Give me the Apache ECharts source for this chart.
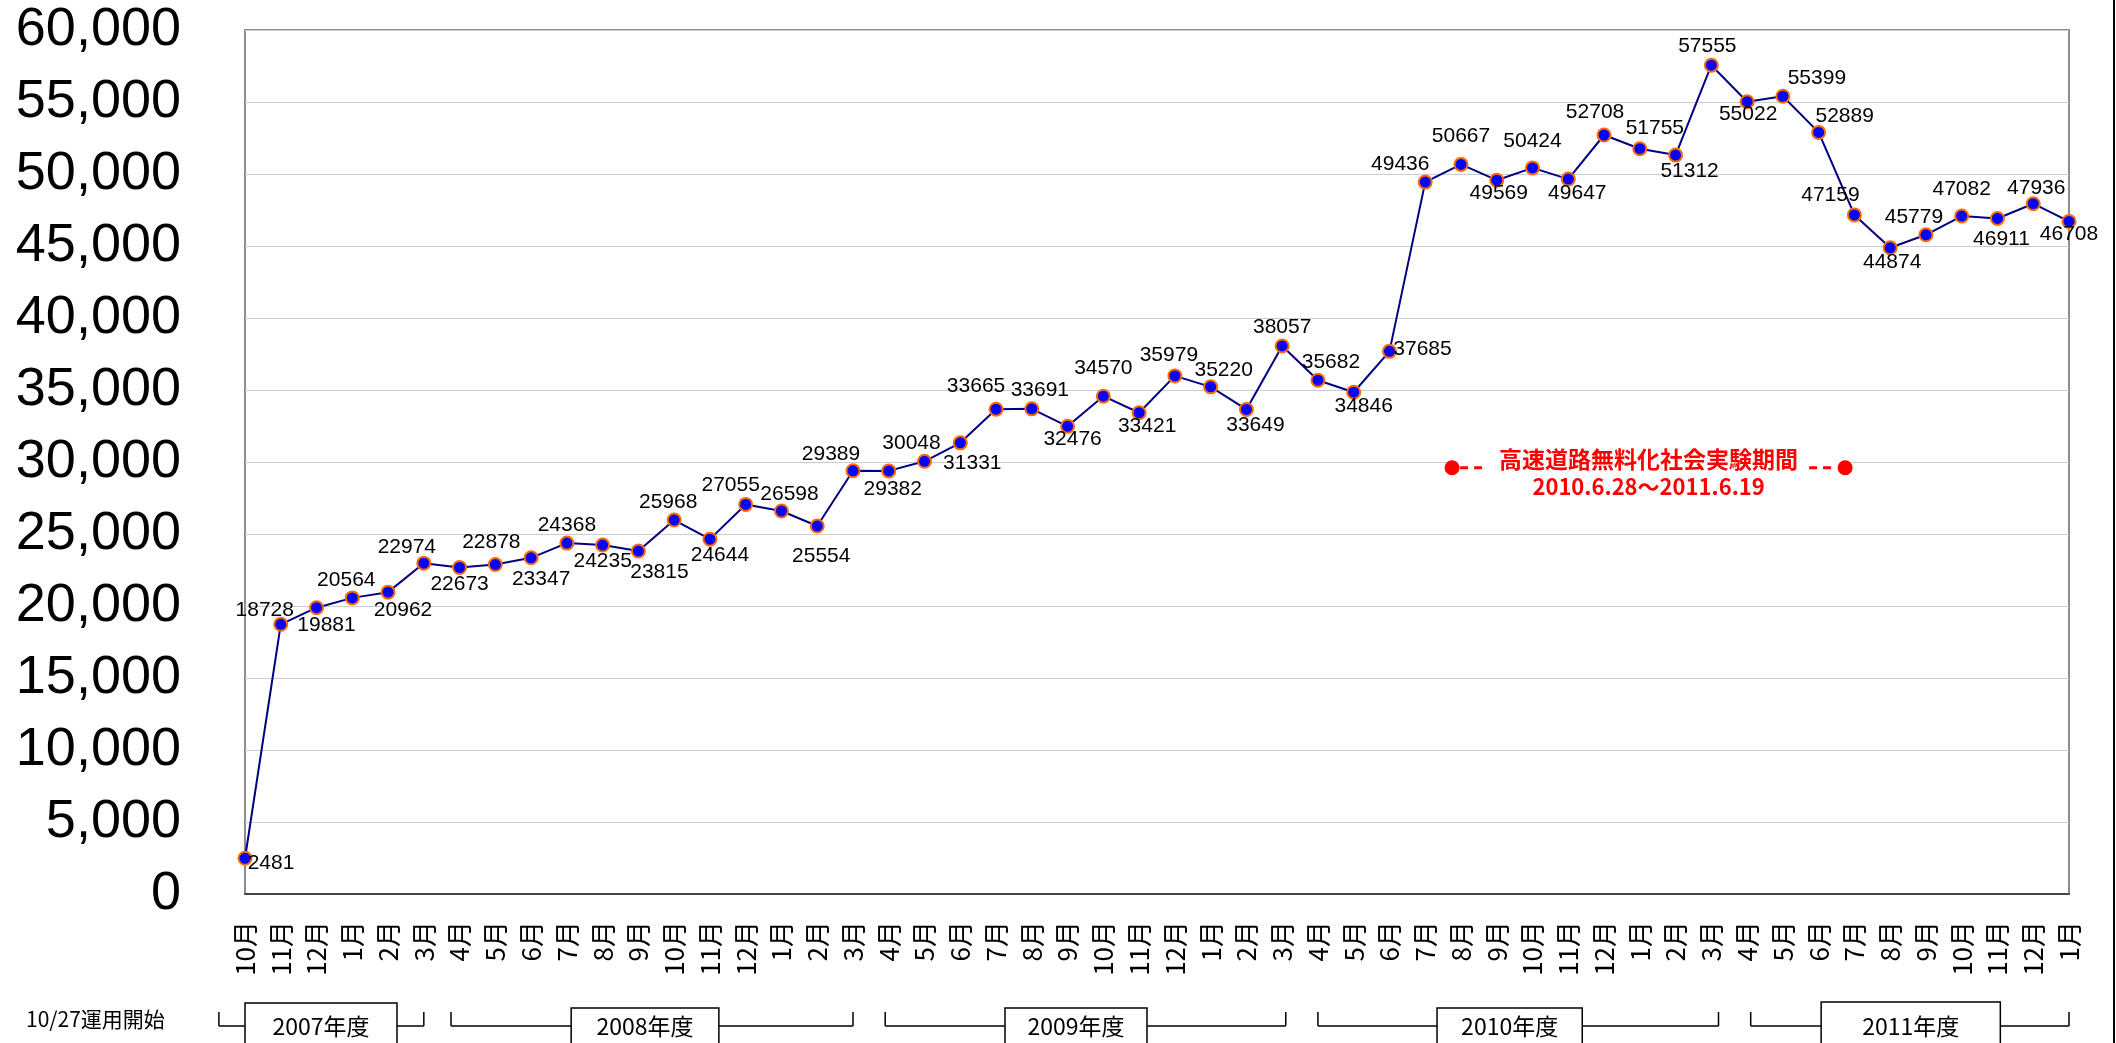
<!DOCTYPE html>
<html><head><meta charset="utf-8">
<script src="https://cdn.jsdelivr.net/npm/echarts@6/dist/echarts.min.js"></script>
<style>html,body{margin:0;padding:0;background:#fff;overflow:hidden}#c{width:2116px;height:1043px}</style>
</head><body><div id="c"></div>
<script>
// ---- data ----
const months = ['10月','11月','12月','1月','2月','3月',
  '4月','5月','6月','7月','8月','9月','10月','11月','12月','1月','2月','3月',
  '4月','5月','6月','7月','8月','9月','10月','11月','12月','1月','2月','3月',
  '4月','5月','6月','7月','8月','9月','10月','11月','12月','1月','2月','3月',
  '4月','5月','6月','7月','8月','9月','10月','11月','12月','1月'];
const values = [2481,18728,19881,20564,20962,22974,
  22673,22878,23347,24368,24235,23815,25968,24644,27055,26598,25554,29389,
  29382,30048,31331,33665,33691,32476,34570,33421,35979,35220,33649,38057,
  35682,34846,37685,49436,50667,49569,50424,49647,52708,51755,51312,57555,
  55022,55399,52889,47159,44874,45779,47082,46911,47936,46708];
const fiscalYears = ['2007年度','2008年度','2009年度','2010年度','2011年度'];
const startNote = '10/27運用開始';
const periodTitle = '高速道路無料化社会実験期間';
const periodDates = '2010.6.28～2011.6.19';
const yMin = 0, yMax = 60000, yStep = 5000;

// ---- label placement (offset of label centre from its point) ----
const labelOffsets = [[26,5],[-16,-14],[10,17],[-6,-18],[15,18],[-17,-16],
  [0,17],[-4,-22],[10,21],[0,-18],[0,16],[21,21],[-6,-18],[10,16],[-15,-19],[8,-17],[4,30],[-22,-17],
  [4,18],[-13,-18],[12,20],[-20,-23],[8,-19],[5,13],[0,-28],[8,13],[-6,-21],[13,-17],[9,16],[0,-19],
  [13,-18],[10,14],[33,-2],[-25,-18],[0,-28],[2,13],[0,-27],[9,14],[-9,-23],[15,-21],[14,16],[-4,-19],
  [1,13],[34,-18],[26,-16],[-24,-20],[2,14],[-12,-18],[0,-27],[4,21],[3,-16],[0,13]];

const sans = "'Liberation Sans',Arial,sans-serif";
const jp = "'Noto Sans CJK JP','Noto Sans',sans-serif";

const chart = echarts.init(document.getElementById('c'), null, {renderer:'canvas'});
const seriesData = values.map((v,i)=>({
  value: v,
  label: {offset: labelOffsets[i]}
}));
chart.setOption({
  animation: false,
  backgroundColor: '#fff',
  grid: {left: 245, right: 47, top: 30, bottom: 149, show: true, borderColor: '#8c8c8c', borderWidth: 2, backgroundColor: 'transparent'},
  xAxis: {
    type: 'category', data: months, boundaryGap: false,
    axisLine: {show: true, lineStyle: {color: '#444', width: 2}},
    axisTick: {show: false},
    axisLabel: {rotate: 90, interval: 0, margin: 27, color: '#000', fontSize: 26, fontFamily: jp},
    splitLine: {show: false}
  },
  yAxis: {
    type: 'value', min: yMin, max: yMax, interval: yStep,
    axisLine: {show: false}, axisTick: {show: false},
    axisLabel: {margin: 64, color: '#000', fontSize: 54, fontFamily: sans,
      formatter: v => String(v).replace(/\B(?=(\d{3})+(?!\d))/g, ',')},
    splitLine: {lineStyle: {color: '#cccccc', width: 1}}
  },
  series: [{
    type: 'line', data: seriesData,
    symbol: 'circle', symbolSize: 13,
    lineStyle: {color: '#000080', width: 2},
    itemStyle: {color: '#0000ff', borderColor: '#ff6a00', borderWidth: 2},
    label: {show: true, position: 'inside', color: '#000', fontSize: 21, fontFamily: sans},
    z: 3
  }]
});

// ---- annotations positioned from the axes ----
const x0 = chart.convertToPixel({xAxisIndex: 0}, 0);
const x1 = chart.convertToPixel({xAxisIndex: 0}, 1);
const step = x1 - x0;
const px = i => x0 + i * step;
const py = v => chart.convertToPixel({yAxisIndex: 0}, v);

const g = [];
const lineEl = (xa, ya, xb, yb, w, color, dash) => ({type:'line', z: 100, shape:{x1:xa,y1:ya,x2:xb,y2:yb}, style:{stroke: color || '#000', lineWidth: w || 1.5, lineDash: dash || null}});
// fiscal year brackets: [bracket start idx, bracket end idx, box left idx, box right idx, box top]
const brackets = [[-0.73,5.0,0,4.25,1003],[5.76,17.0,9.12,13.25,1008],[17.9,29.1,21.25,25.22,1008],[30.0,41.2,33.33,37.39,1008],[42.1,51.0,44.07,49.08,1002]];
const tickTop = 1012, lineY = 1026;
brackets.forEach((b, k) => {
  const a = px(b[0]), e = px(b[1]);
  g.push(lineEl(a, tickTop, a, lineY));
  g.push(lineEl(e, tickTop, e, lineY));
  g.push(lineEl(a, lineY, e, lineY));
  const l = px(b[2]), r = px(b[3]);
  g.push({type:'rect', z: 101, shape:{x:l, y:b[4], width:r-l, height:1060-b[4]}, style:{fill:'#fff', stroke:'#000', lineWidth:1.5}});
  g.push({type:'text', z: 102, style:{text: fiscalYears[k], x:(l+r)/2, y:1026, align:'center', verticalAlign:'middle', fill:'#000', fontSize:23, fontFamily: jp}});
});
g.push({type:'text', z: 102, style:{text: startNote, x: 26, y: 1019, align:'left', verticalAlign:'middle', fill:'#000', fontSize:21, fontFamily: jp}});

// free-of-charge experiment period marker
const pL = px(33.75), pR = px(44.74), pY = py(29600);
g.push({type:'rect', z: 100, shape:{x:pL, y:pY-20, width:pR-pL, height:40}, style:{fill:'#fff'}});
g.push(lineEl(pL+8, pY, pL+36, pY, 3, '#ff0000', [8,6]));
g.push(lineEl(pR-36, pY, pR-8, pY, 3, '#ff0000', [8,6]));
g.push({type:'circle', z: 102, shape:{cx:pL, cy:pY, r:7.5}, style:{fill:'#ff0000'}});
g.push({type:'circle', z: 102, shape:{cx:pR, cy:pY, r:7.5}, style:{fill:'#ff0000'}});
const midX = (pL + pR) / 2;
g.push({type:'text', z: 102, style:{text: periodTitle, x: midX, y: pY - 8, align:'center', verticalAlign:'middle', fill:'#ff0000', fontSize:23, fontWeight:'bold', fontFamily: jp}});
g.push({type:'text', z: 102, style:{text: periodDates, x: midX, y: pY + 19, align:'center', verticalAlign:'middle', fill:'#ff0000', fontSize:22, fontWeight:'bold', fontFamily: jp}});
// outer frame edge at right
g.push(lineEl(2114, 0, 2114, 1043, 2, '#000'));
chart.setOption({graphic: g});
</script></body></html>
